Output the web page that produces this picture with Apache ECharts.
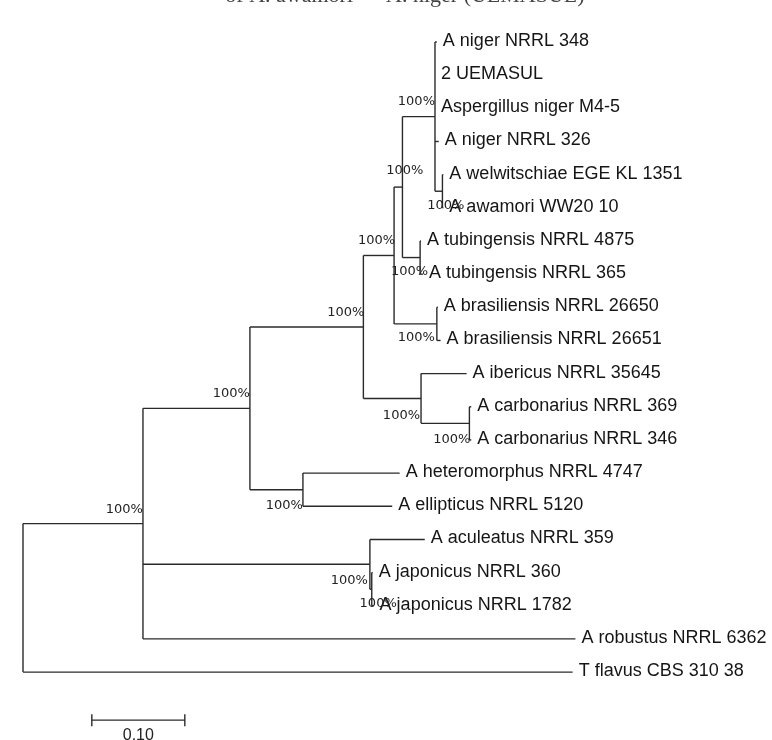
<!DOCTYPE html>
<html>
<head>
<meta charset="utf-8">
<script src="https://cdn.jsdelivr.net/npm/echarts@6/dist/echarts.min.js"></script>
<style>html,body{margin:0;padding:0;background:#fff}#c{width:772px;height:740px}</style>
</head>
<body>
<div id="c"></div>
<script>
// ---- DATA ----
const leafNames = [
  'A niger NRRL 348', '2 UEMASUL', 'Aspergillus niger M4-5', 'A niger NRRL 326',
  'A welwitschiae EGE KL 1351', 'A awamori WW20 10', 'A tubingensis NRRL 4875',
  'A tubingensis NRRL 365', 'A brasiliensis NRRL 26650', 'A brasiliensis NRRL 26651',
  'A ibericus NRRL 35645', 'A carbonarius NRRL 369', 'A carbonarius NRRL 346',
  'A heteromorphus NRRL 4747', 'A ellipticus NRRL 5120', 'A aculeatus NRRL 359',
  'A japonicus NRRL 360', 'A japonicus NRRL 1782', 'A robustus NRRL 6362', 'T flavus CBS 310 38'
];
// distance from root (substitutions/site)
const leafDepth = [0.445, 0.443, 0.443, 0.447, 0.452, 0.452, 0.428, 0.430, 0.446, 0.449,
                   0.477, 0.482, 0.482, 0.405, 0.397, 0.432, 0.376, 0.377, 0.594, 0.591];
const nodeNames = ['root', 'N1', 'N2', 'N3', 'N4', 'N5', 'N6', 'N7', 'Tub', 'Bras', 'Ib', 'Carb', 'He', 'AJ', 'Jap'];
const nodeDepth = [0, 0.129, 0.244, 0.366, 0.399, 0.408, 0.443, 0.451, 0.427, 0.445, 0.428, 0.480, 0.301, 0.373, 0.375];
const nodeChildren = [
  ['N1', 'L19'], ['N2', 'AJ', 'L18'], ['N3', 'He'], ['N4', 'Ib'], ['N5', 'Bras'], ['N6', 'Tub'],
  ['L0', 'L1', 'L2', 'L3', 'N7'], ['L4', 'L5'], ['L6', 'L7'], ['L8', 'L9'], ['L10', 'Carb'],
  ['L11', 'L12'], ['L13', 'L14'], ['L15', 'Jap'], ['L16', 'L17']
];
const nodeSupport = ['', '100%', '100%', '100%', '100%', '100%', '100%', '100%', '100%', '100%', '100%', '100%', '100%', '100%', '100%'];
const scaleBarLength = 0.10;
const scaleBarLabel = '0.10';
const titleText = 'of A. awamori \u2014 A. niger (UEMASUL)';

// ---- layout / style ----
const supportOffset = { // [dx, dy] px relative to node, right aligned
  N1: [0, -14], N2: [0, -15], N3: [1, -14], N4: [1, -15], N5: [21, -16], N6: [0, -15],
  N7: [22, 14], Tub: [8, 14], Bras: [-2, 14], Ib: [-1, 17], Carb: [1, 16], He: [0, 16],
  AJ: [-2, 16], Jap: [25, 14]
};
const scaleBarStart = 0.074;
const scaleBarRow = 20.45;
const LINE = '#2a2a2a';

// ---- build tree geometry from data ----
const nodeIndex = {};
nodeNames.forEach((n, i) => nodeIndex[n] = i);
function depthOf(id) { return id[0] === 'L' ? leafDepth[+id.slice(1)] : nodeDepth[nodeIndex[id]]; }
const yCache = {};
function yOf(id) {
  if (id[0] === 'L') return +id.slice(1);
  if (yCache[id] !== undefined) return yCache[id];
  const ch = nodeChildren[nodeIndex[id]];
  const v = (yOf(ch[0]) + yOf(ch[ch.length - 1])) / 2;
  yCache[id] = v;
  return v;
}
const segments = [];
nodeNames.forEach((n, i) => {
  const ch = nodeChildren[i];
  const x = nodeDepth[i];
  segments.push([x, yOf(ch[0]), x, yOf(ch[ch.length - 1])]);
  ch.forEach(c => segments.push([x, yOf(c), depthOf(c), yOf(c)]));
});
const leafData = leafNames.map((n, i) => [leafDepth[i], i]);
const supportData = nodeNames.map((n, i) => [nodeDepth[i], yOf(n)]);

const chart = echarts.init(document.getElementById('c'), null, { renderer: 'canvas' });
chart.setOption({
  animation: false,
  backgroundColor: '#fff',
  grid: { left: 23, right: 5, top: 42, bottom: 1.6 },
  xAxis: { type: 'value', min: 0, max: 0.8, show: false },
  yAxis: { type: 'value', min: 0, max: 21, inverse: true, show: false },
  graphic: [{
    type: 'text', x: 405, y: 7,
    style: { text: titleText, font: '22px "Liberation Serif"', fill: '#444', align: 'center', verticalAlign: 'bottom' }
  }],
  series: [
    {
      type: 'custom', name: 'branches', data: segments, encode: { x: [0, 2], y: [1, 3] },
      renderItem(params, api) {
        const p1 = api.coord([api.value(0), api.value(1)]);
        const p2 = api.coord([api.value(2), api.value(3)]);
        return { type: 'line', shape: { x1: p1[0], y1: p1[1], x2: p2[0], y2: p2[1] },
                 style: { stroke: LINE, lineWidth: 1.4 } };
      }
    },
    {
      type: 'custom', name: 'leaves', data: leafData, encode: { x: 0, y: 1 },
      renderItem(params, api) {
        const p = api.coord([api.value(0), api.value(1)]);
        return { type: 'text', x: p[0] + 6, y: p[1] - 1,
                 style: { text: leafNames[params.dataIndex], font: '18px "Liberation Sans"', fill: '#151515',
                          align: 'left', verticalAlign: 'middle' } };
      }
    },
    {
      type: 'custom', name: 'support', data: supportData, encode: { x: 0, y: 1 },
      renderItem(params, api) {
        const name = nodeNames[params.dataIndex];
        const txt = nodeSupport[params.dataIndex];
        if (!txt) return null;
        const off = supportOffset[name] || [0, -14];
        const p = api.coord([api.value(0), api.value(1)]);
        return { type: 'text', x: p[0] + off[0], y: p[1] + off[1],
                 style: { text: txt, font: '13px "DejaVu Sans"', fill: '#222', align: 'right', verticalAlign: 'middle' } };
      }
    },
    {
      type: 'custom', name: 'scale', data: [[scaleBarStart, scaleBarRow, scaleBarStart + scaleBarLength, scaleBarRow]],
      encode: { x: [0, 2], y: [1, 3] },
      renderItem(params, api) {
        const p1 = api.coord([api.value(0), api.value(1)]);
        const p2 = api.coord([api.value(2), api.value(3)]);
        return { type: 'group', children: [
          { type: 'line', shape: { x1: p1[0], y1: p1[1], x2: p2[0], y2: p2[1] }, style: { stroke: LINE, lineWidth: 1.4 } },
          { type: 'line', shape: { x1: p1[0], y1: p1[1] - 6, x2: p1[0], y2: p1[1] + 6 }, style: { stroke: LINE, lineWidth: 1.4 } },
          { type: 'line', shape: { x1: p2[0], y1: p2[1] - 6, x2: p2[0], y2: p2[1] + 6 }, style: { stroke: LINE, lineWidth: 1.4 } },
          { type: 'text', x: (p1[0] + p2[0]) / 2, y: p1[1] + 15,
            style: { text: scaleBarLabel, font: '16px "Liberation Sans"', fill: '#222', align: 'center', verticalAlign: 'middle' } }
        ] };
      }
    }
  ]
});
</script>
</body>
</html>
